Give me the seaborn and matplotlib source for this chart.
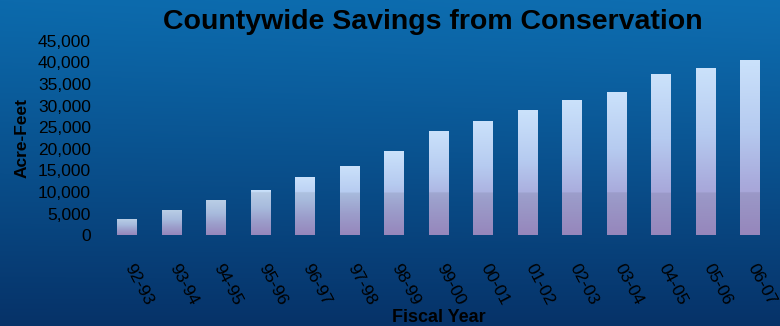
import numpy as np
import pandas as pd
import matplotlib
matplotlib.use("Agg")
import matplotlib.pyplot as plt
from matplotlib.colors import LinearSegmentedColormap
from matplotlib.transforms import ScaledTranslation
from matplotlib.ticker import FuncFormatter
import seaborn as sns

# Fiscal years and conservation savings (acre-feet)
years = ["92-93", "93-94", "94-95", "95-96", "96-97", "97-98", "98-99", "99-00",
         "00-01", "01-02", "02-03", "03-04", "04-05", "05-06", "06-07"]
savings = [3700, 5800, 8100, 10500, 13500, 16100, 19600, 24100,
           26500, 28900, 31400, 33200, 37200, 38700, 40600]
y_ticks = list(range(0, 45001, 5000))

sns.set_theme(style="white")
plt.rcParams["font.family"] = ["Liberation Sans", "DejaVu Sans"]

W, H = 780, 326
fig = plt.figure(figsize=(W / 100, H / 100), dpi=100)

# Blue backdrop, lighter at the top and towards the upper right
bg = fig.add_axes([0, 0, 1, 1], zorder=0)
yy, xx = np.mgrid[0:1:200j, 0:1:400j]
top = np.array([12, 106, 172]) / 255
bot = np.array([6, 50, 104]) / 255
t = yy[..., None] ** 1.1
img = bot * t + top * (1 - t)
img = img + (0.025 * xx * (1 - yy))[..., None] * np.array([0.3, 0.6, 0.8])
bg.imshow(np.clip(img, 0, 1), aspect="auto", extent=[0, 1, 0, 1], origin="upper")
bg.set_axis_off()

ax = fig.add_axes([104.75 / W, 90.7 / H, 667.5 / W, 194.6 / H], zorder=1)
ax.patch.set_alpha(0)

df = pd.DataFrame({"year": years, "acre_feet": savings})
sns.barplot(data=df, x="year", y="acre_feet", color="#c0d8f5", width=0.43,
            saturation=1, ax=ax, errorbar=None)

# Fill each bar with a light-blue to lavender gradient, slightly dimmer near the base
bar_cmap = LinearSegmentedColormap.from_list(
    "bar", [(0.0, "#a392cc"), (0.3, "#a9abdc"), (0.6, "#b6cbf0"), (1.0, "#cbe2fb")])
band_top = 9800
for p in ax.patches:
    x0, w, h = p.get_x(), p.get_width(), p.get_height()
    ys = np.linspace(0, h, 300)
    rgba = bar_cmap(ys / h)
    rgba[ys < band_top, :3] *= 0.92
    im = ax.imshow(rgba[:, None, :], aspect="auto", origin="lower",
                   extent=[x0, x0 + w, 0, h], zorder=2, interpolation="bilinear")
    im.set_clip_path(p)
    p.set_facecolor("none")
    p.set_edgecolor("none")

ax.set_xlim(-0.5, len(years) - 0.5)
ax.set_ylim(0, 45000)
ax.set_yticks(y_ticks)
ax.yaxis.set_major_formatter(FuncFormatter(lambda v, _: f"{int(v):,}"))
for s in ax.spines.values():
    s.set_visible(False)
ax.grid(False)

ax.tick_params(axis="y", length=0, pad=10, labelsize=12.5, labelcolor="black")
ax.tick_params(axis="x", length=0, pad=0, labelsize=12.5, labelcolor="black")
ax.set_xticks(range(len(years)))
ax.set_xticklabels(years, rotation=-62, ha="center", va="center",
                   rotation_mode="anchor")
shift = ScaledTranslation(12 / 100, -49 / 100, fig.dpi_scale_trans)
for lab in ax.get_xticklabels():
    lab.set_transform(lab.get_transform() + shift)

ax.set_xlabel("Fiscal Year", fontsize=13, fontweight="bold", color="black")
ax.xaxis.set_label_coords((439 - 104.75) / 667.5, -0.38)
ax.set_ylabel("Acre-Feet", fontsize=12.5, fontweight="bold", color="black")
ax.yaxis.set_label_coords(-0.113, 0.5)

fig.text(433 / W, 1 - 22 / H, "Countywide Savings from Conservation",
         ha="center", va="center", fontsize=20.5, fontweight="bold", color="black")

fig.savefig("out.png", dpi=100)
